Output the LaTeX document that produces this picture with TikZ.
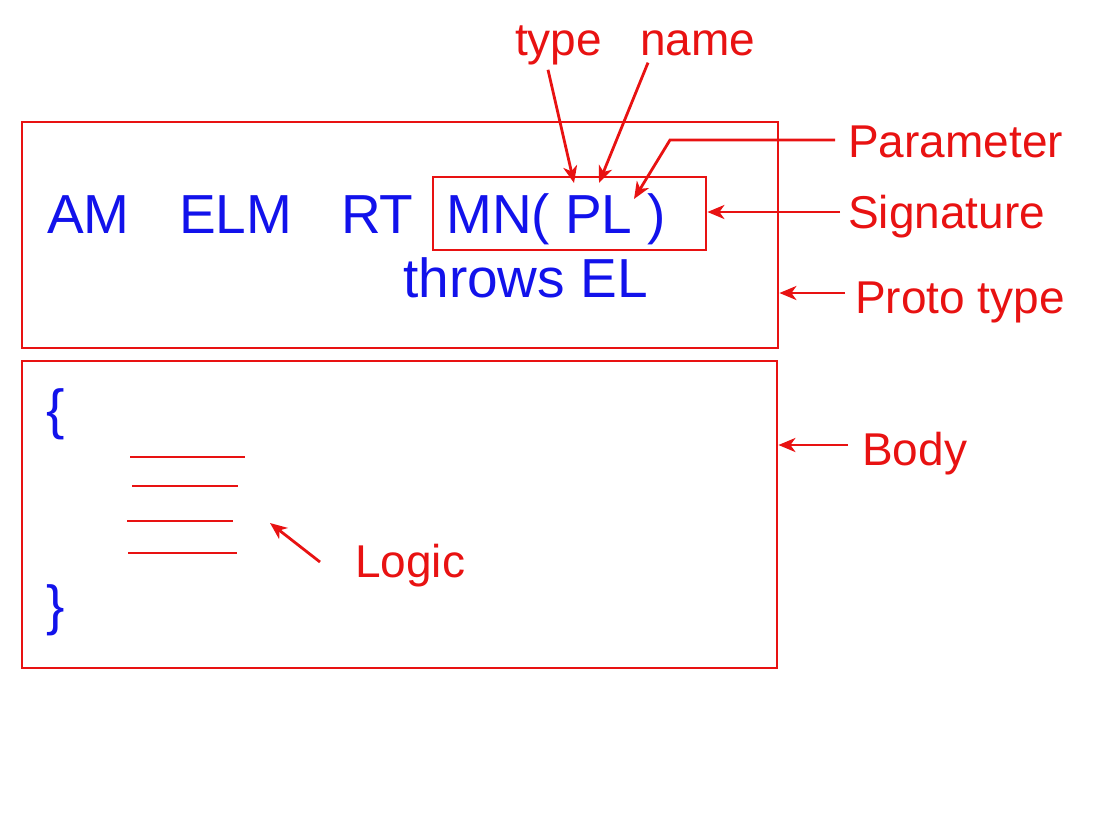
\documentclass[tikz,border=0pt]{standalone}
\usepackage{fontspec}
\setmainfont{Liberation Sans}
\usetikzlibrary{arrows.meta}
\definecolor{sigred}{RGB}{232,18,18}
\definecolor{codeblue}{RGB}{18,18,235}

\begin{document}
\begin{tikzpicture}[x=1pt, y=-1pt,
    code/.style={text=codeblue, font=\fontsize{55}{60}\selectfont, inner sep=0pt, anchor=base west},
    note/.style={text=sigred, font=\fontsize{46}{50}\selectfont, inner sep=0pt, anchor=base west},
    box/.style={draw=sigred, line width=2.8pt, inner sep=0pt},
    pointer/.style={draw=sigred, line width=2.8pt, -{Stealth[length=17pt, width=14pt, inset=5pt]}},
    logic/.style={draw=sigred, line width=2.8pt}]
    \useasboundingbox (0,0) rectangle (1098,815);
    % boxes
    \node[box, minimum width=756pt, minimum height=226pt] (proto) at (400,235) {};
    \node[box, minimum width=755pt, minimum height=307pt] (body) at (399.5,514.5) {};
    \node[box, minimum width=273pt, minimum height=73pt] (sig) at (569.5,213.5) {};
    % method header
    \node[code] (am) at (47,233) {AM};
    \node[code] (elm) at (179,233) {ELM};
    \node[code] (rt) at (341,233) {RT};
    \node[code] (mn) at (446,233) {MN( PL )};
    \node[code] (throws) at (403,297) {throws EL};
    % method body
    \node[code] (open) at (46,428) {\{};
    \node[code] (close) at (46,624) {\}};
    \foreach \xa/\xb/\y in {130/245/457, 132/238/486, 127/233/521, 128/237/553}
        \draw[logic] (\xa,\y) -- (\xb,\y);
    % labels
    \node[note] (type) at (515,55) {type};
    \node[note] (name) at (640,55) {name};
    \node[note] (param) at (848,157) {Parameter};
    \node[note] (signat) at (848,228) {Signature};
    \node[note] (prototype) at (855,313) {Proto type};
    \node[note] (bodylabel) at (862,465) {Body};
    \node[note] (logiclabel) at (355,577) {Logic};
    % pointers
    \coordinate (typetip) at (574,183);
    \coordinate (nametip) at (599,183);
    \coordinate (parambend) at (670,140);
    \coordinate (paramtip) at (634,199);
    \draw[pointer] ([shift={(33pt,-5pt)}]type.south west) -- (typetip);
    \draw[pointer] ([shift={(8pt,-7pt)}]name.south west) -- (nametip);
    \draw[pointer] ([shift={(-13pt,17pt)}]param.base west) -- (parambend) -- (paramtip);
    \draw[pointer] ([shift={(-8pt,16pt)}]signat.base west) coordinate (sgstart) -- (sgstart -| sig.east);
    \draw[pointer] ([shift={(-10pt,20pt)}]prototype.base west) coordinate (ptstart) -- (ptstart -| proto.east);
    \draw[pointer] ([shift={(-14pt,20pt)}]bodylabel.base west) coordinate (bdstart) -- (bdstart -| body.east);
    \draw[pointer] ([shift={(-35pt,15pt)}]logiclabel.base west) -- ++(-50,-39);
\end{tikzpicture}
\end{document}
